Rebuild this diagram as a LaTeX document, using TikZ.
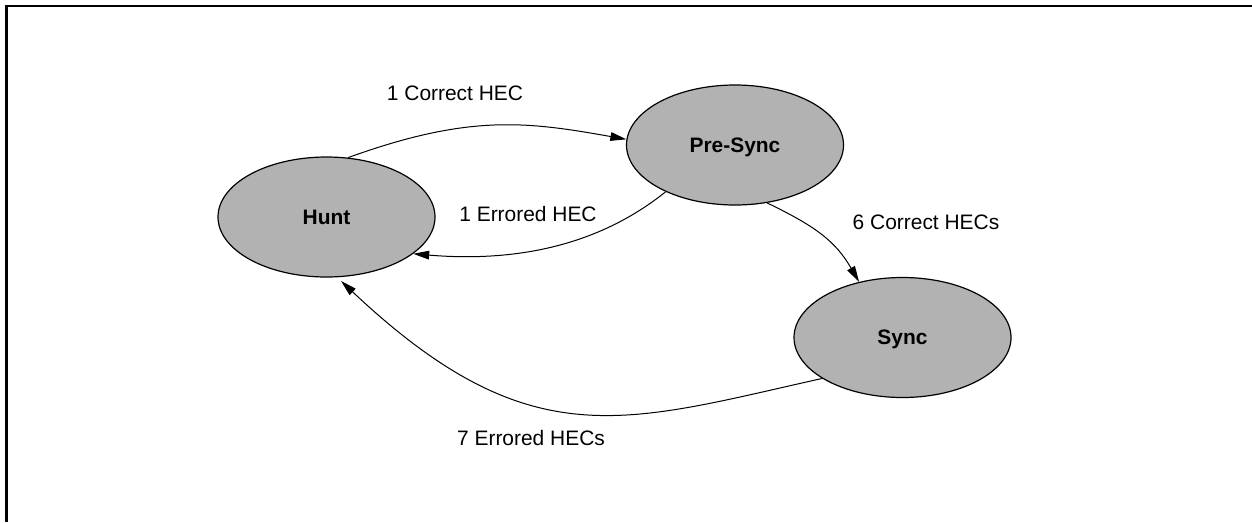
\documentclass[tikz,border=0pt]{standalone}
\usepackage{fontspec}
\setmainfont{Liberation Sans}
\usetikzlibrary{shapes.geometric,arrows.meta}

\begin{document}
\begin{tikzpicture}[x=0.75pt,y=-0.75pt,
  state/.style={ellipse,draw=black,line width=0.9pt,fill=black!30,
    minimum width=162.75pt,minimum height=90pt,inner sep=0pt,
    font=\fontsize{15.7}{18}\selectfont\bfseries,text height=11.2pt,text depth=0pt},
  trans/.style={draw=black,line width=0.75pt,-{Triangle[length=12pt,width=6.5pt]}},
  tlabel/.style={font=\fontsize{15.7}{18}\selectfont,inner sep=0pt,
    text height=11.2pt,text depth=0pt}]
  \useasboundingbox (0,0) rectangle (1252,522);

  % open frame: top and left edges only
  \draw[line width=1.8pt] (1252,6) -- (6.6,6) -- (6.6,522);

  % states
  \node[state] (hunt) at (326.5,217) {Hunt};
  \node[state] (pre)  at (735,145)   {Pre-Sync};
  \node[state] (sync) at (902.5,337.5) {Sync};

  % transitions
  \draw[trans] (hunt.70) .. controls (470,113.5) and (527.6,121.8) .. (pre.177);
  \draw[trans] (pre.214) .. controls (602.6,242.4) and (522.5,262.9) .. (hunt.337);
  \draw[trans] (pre.299) .. controls (816.2,226.6) and (835.5,241.3) .. (sync.128);
  \draw[trans,shorten >=4pt] (sync.207) .. controls (624.4,422.5) and (530.4,459.2) .. (hunt.280);

  % transition labels
  \node[tlabel] (l1) at (455,93.5) {1 Correct HEC};
  \node[tlabel] (l2) at (528,214)  {1 Errored HEC};
  \node[tlabel] (l3) at (926,222)  {6 Correct HECs};
  \node[tlabel] (l4) at (531,438)  {7 Errored HECs};
\end{tikzpicture}
\end{document}
